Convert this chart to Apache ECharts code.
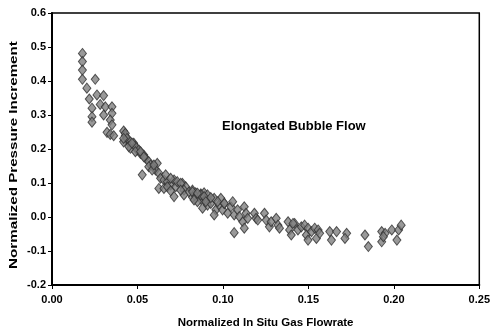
<!DOCTYPE html>
<html>
<head>
<meta charset="utf-8">
<script src="https://cdn.jsdelivr.net/npm/echarts@6/dist/echarts.min.js"></script>
<style>
  html, body { margin: 0; padding: 0; background: #fff; }
  #chart { width: 493px; height: 335px; }
</style>
</head>
<body>
<div id="chart"></div>
<script>
// gas flowrate (x) and pressure increment (y)
const flowrate = [
  0.0178, 0.0178, 0.0178, 0.0178, 0.0253, 0.0204, 0.0263, 0.0218, 0.0302, 0.0282,
  0.0312, 0.0351, 0.0234, 0.0234, 0.0234, 0.0302, 0.0351, 0.0341, 0.0351, 0.0322,
  0.0341, 0.0361, 0.0419, 0.0429, 0.0449, 0.0419, 0.0478, 0.0459, 0.0498,
  0.0429, 0.0439, 0.0459, 0.0478, 0.0488, 0.0508, 0.0518, 0.0537, 0.0547, 0.0566,
  0.0576, 0.0596, 0.0616, 0.0606, 0.0625, 0.0635, 0.0655, 0.0675, 0.0694, 0.0714,
  0.0724, 0.0528, 0.0625, 0.0655, 0.0714, 0.0763, 0.0782, 0.0772, 0.0802, 0.0822,
  0.0841, 0.0871, 0.0890, 0.0910, 0.0419, 0.0449, 0.0488, 0.0566, 0.0586, 0.0675,
  0.0694, 0.0772, 0.0822, 0.0871,
  0.0822, 0.0841, 0.0851, 0.0871, 0.0881, 0.0900, 0.0910, 0.0929, 0.0949, 0.0959,
  0.0949, 0.0978, 0.0998, 0.1008, 0.1028, 0.1047, 0.1057, 0.1066, 0.1086, 0.1096,
  0.1116, 0.1125, 0.1135, 0.1145, 0.1125, 0.1066, 0.1184, 0.1194, 0.1204, 0.1243,
  0.1253, 0.1272, 0.1282, 0.1312, 0.1322, 0.1331, 0.1381, 0.1390, 0.1400, 0.1419,
  0.1439, 0.0831, 0.0890, 0.0988,
  0.1410, 0.1459, 0.1478, 0.1498, 0.1488, 0.1498, 0.1518, 0.1537, 0.1557, 0.1547,
  0.1566, 0.1625, 0.1635, 0.1665, 0.1724, 0.1714,
  0.1831, 0.1851, 0.1929, 0.1949, 0.1929, 0.1939, 0.1988, 0.2018, 0.2028, 0.2043,
  0.0468, 0.0518, 0.0537, 0.0596, 0.0665, 0.0694, 0.0733, 0.0753, 0.0851, 0.0929,
  0.0969, 0.1008, 0.0753, 0.0900
];
const pressure = [
  0.481, 0.457, 0.432, 0.405, 0.405, 0.379, 0.359, 0.347, 0.357, 0.331,
  0.324, 0.324, 0.320, 0.295, 0.279, 0.300, 0.305, 0.285, 0.271, 0.249,
  0.243, 0.239, 0.253, 0.239, 0.221, 0.221, 0.214, 0.202, 0.197,
  0.246, 0.231, 0.221, 0.217, 0.207, 0.197, 0.187, 0.182, 0.173, 0.163,
  0.153, 0.148, 0.158, 0.138, 0.129, 0.114, 0.109, 0.104, 0.094, 0.109,
  0.089, 0.124, 0.084, 0.084, 0.060, 0.099, 0.089, 0.079, 0.074, 0.079,
  0.071, 0.068, 0.071, 0.065, 0.231, 0.207, 0.192, 0.148, 0.138, 0.089,
  0.077, 0.065, 0.058, 0.052,
  0.074, 0.060, 0.045, 0.065, 0.026, 0.050, 0.035, 0.040, 0.055, 0.021,
  0.006, 0.035, 0.021, 0.040, 0.011, 0.030, 0.045, 0.006, 0.021, 0.001,
  -0.014, 0.030, 0.011, -0.004, -0.033, -0.046, 0.011, -0.004, -0.009, 0.011,
  -0.009, -0.029, -0.014, -0.004, -0.024, -0.033, -0.014, -0.038, -0.053, -0.019,
  -0.038, 0.050, 0.060, 0.055,
  -0.019, -0.029, -0.024, -0.033, -0.053, -0.068, -0.043, -0.033, -0.038, -0.063,
  -0.048, -0.043, -0.068, -0.043, -0.048, -0.063,
  -0.053, -0.087, -0.043, -0.048, -0.073, -0.058, -0.038, -0.068, -0.038, -0.024,
  0.217, 0.192, 0.177, 0.153, 0.124, 0.114, 0.104, 0.099, 0.070, 0.057,
  0.045, 0.040, 0.079, 0.045
];
const xTicks = [0, 0.05, 0.1, 0.15, 0.2, 0.25];
const yTicks = [-0.2, -0.1, 0, 0.1, 0.2, 0.3, 0.4, 0.5, 0.6];

let chart = echarts.init(document.getElementById("chart"));

const points = flowrate.map((x, i) => [x, pressure[i]]);
const font = "'Liberation Sans', Arial, sans-serif";

let option = {
  animation: false,
  grid: {
    left: 52,
    right: 13,
    top: 13,
    bottom: 50,
    show: true,
    borderColor: "#000",
    borderWidth: 1.5,
    backgroundColor: "#fff",
  },
  xAxis: {
    type: "value",
    min: xTicks[0],
    max: xTicks[xTicks.length - 1],
    interval: 0.05,
    name: "Normalized In Situ Gas Flowrate",
    nameLocation: "middle",
    nameGap: 32,
    nameTextStyle: { fontFamily: font, fontWeight: "bold", fontSize: 11.5, color: "#000" },
    axisLine: { onZero: false, lineStyle: { color: "#000", width: 2 } },
    axisTick: { inside: false, length: 4, lineStyle: { color: "#000" } },
    splitLine: { show: false },
    axisLabel: {
      fontFamily: font, fontWeight: "bold", fontSize: 11, color: "#000", margin: 9,
      formatter: (v) => v.toFixed(2),
    },
  },
  yAxis: {
    type: "value",
    min: yTicks[0],
    max: yTicks[yTicks.length - 1],
    interval: 0.1,
    axisLine: { onZero: false, lineStyle: { color: "#000", width: 2 } },
    axisTick: { inside: false, length: 4, lineStyle: { color: "#000" } },
    splitLine: { show: false },
    axisLabel: {
      fontFamily: font, fontWeight: "bold", fontSize: 11, color: "#000", margin: 6,
      formatter: (v) => v.toFixed(1),
    },
  },
  graphic: [
    {
      // y axis title, stretched along its length like the original
      type: "text",
      x: 14,
      y: 155,
      rotation: Math.PI / 2,
      scaleX: 1.38,
      style: {
        text: "Normalized Pressure Increment",
        font: "bold 11px 'Liberation Sans', Arial, sans-serif",
        fill: "#000",
        align: "center",
        verticalAlign: "middle",
      },
    },
    {
      type: "text",
      left: 222,
      top: 120,
      style: {
        text: "Elongated Bubble Flow",
        font: "bold 13px 'Liberation Sans', Arial, sans-serif",
        fill: "#000",
      },
    },
  ],
  series: [
    {
      type: "scatter",
      symbol: "diamond",
      symbolSize: [8, 10],
      itemStyle: { color: "#808080", borderColor: "#303030", borderWidth: 1 },
      data: points,
    },
  ],
};

chart.setOption(option);
</script>
</body>
</html>
